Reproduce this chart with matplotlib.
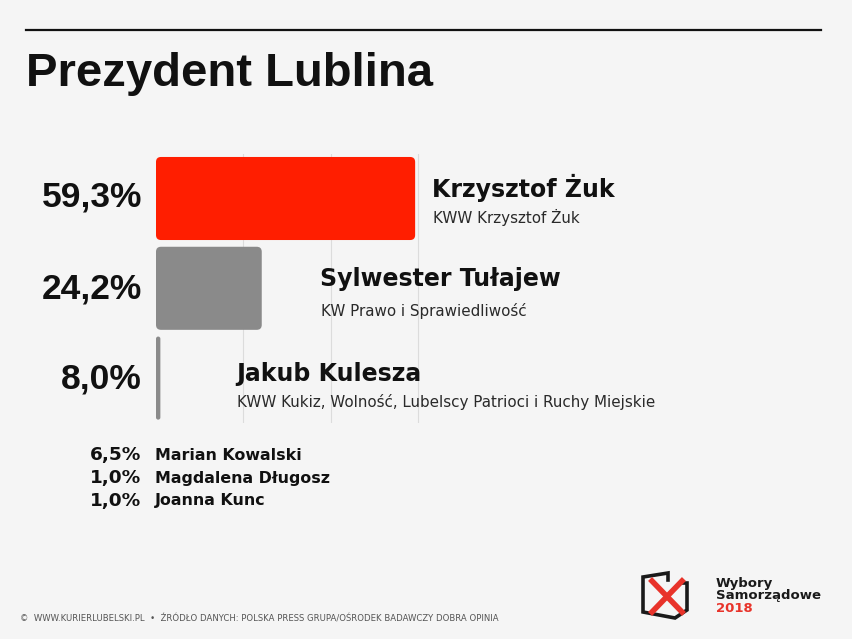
import matplotlib
matplotlib.use("Agg")
import matplotlib.pyplot as plt
from matplotlib.patches import FancyBboxPatch
from matplotlib.lines import Line2D

# DATA ================================================================
title = "Prezydent Lublina"
pct_labels = ["59,3%", "24,2%", "8,0%"]
bar_values = [59.3, 24.2, 1.0]        # bar lengths as drawn in the picture
names = ["Krzysztof Żuk", "Sylwester Tułajew", "Jakub Kulesza"]
committees = ["KWW Krzysztof Żuk", "KW Prawo i Sprawiedliwość",
              "KWW Kukiz, Wolność, Lubelscy Patrioci i Ruchy Miejskie"]
bar_colors = ["#ff1e00", "#8a8a8a", "#8a8a8a"]
other_pct = ["6,5%", "1,0%", "1,0%"]
other_names = ["Marian Kowalski", "Magdalena Długosz", "Joanna Kunc"]
footer = ("©  WWW.KURIERLUBELSKI.PL  •  ŹRÓDŁO DANYCH: POLSKA PRESS GRUPA/"
          "OŚRODEK BADAWCZY DOBRA OPINIA")

# FIGURE ==============================================================
W, H = 852, 639
BG = "#f5f5f5"
fig = plt.figure(figsize=(W / 100, H / 100), dpi=100, facecolor=BG)


def fx(x):
    return x / W


def fy(y):
    return 1 - y / H


# bar axes, x in percent
px_per_pct = 4.37
ax_left, ax_top, ax_bot = 156, 153.6, 423.0
ax_w = W - ax_left
ax = fig.add_axes([fx(ax_left), fy(ax_bot), fx(ax_w), (ax_bot - ax_top) / H])
ax.set_facecolor("none")
ax.set_xlim(0, ax_w / px_per_pct)
ax.set_ylim(2.5, -0.5)
ax.axis("off")

for gx in [20, 40, 60]:
    ax.axvline(gx, color="#dcdcdc", lw=0.8, zorder=0)

bar_h = 0.925
px_per_unit = (ax_bot - ax_top) / 3
aspect = (1 / px_per_unit) / (1 / px_per_pct)
for i, v in enumerate(bar_values):
    r = min(5 / px_per_pct, v / 2)
    p = FancyBboxPatch((0, i - bar_h / 2), v, bar_h,
                       boxstyle="round,pad=0,rounding_size=%f" % r,
                       mutation_aspect=aspect, fc=bar_colors[i], ec="none",
                       zorder=2)
    ax.add_patch(p)

# TEXTS ===============================================================
fig.add_artist(Line2D([fx(26), fx(821)], [fy(30), fy(30)], color="#111111", lw=1.6))
fig.text(fx(26), fy(86), title, fontsize=34, fontweight="bold",
         family="Liberation Sans", color="#111111",
         va="baseline", ha="left")

pct_base = [207, 298, 388]
name_y = [188, 279, 374]
sub_y = [217, 311, 402]
name_x = [432, 320, 236]
for i in range(3):
    fig.text(fx(142), fy(pct_base[i]), pct_labels[i], fontsize=25.5,
             fontweight="bold", family="Liberation Sans", ha="right",
             va="baseline", color="#111111")
    fig.text(fx(name_x[i]), fy(name_y[i]), names[i], fontsize=17,
             fontweight="bold", ha="left", va="center", color="#111111")
    fig.text(fx(name_x[i] + 1), fy(sub_y[i]), committees[i], fontsize=10.9,
             ha="left", va="center", color="#2a2a2a")

for i in range(3):
    y = 455 + 23 * i
    fig.text(fx(141), fy(y), other_pct[i], fontsize=13.3, fontweight="bold",
             ha="right", va="center", color="#111111")
    fig.text(fx(155), fy(y), other_names[i], fontsize=11.4, fontweight="bold",
             ha="left", va="center", color="#111111")

fig.text(fx(20), fy(619), footer, fontsize=6.1, ha="left", va="center",
         color="#555555")

# LOGO ================================================================
box = [(668, 580), (668, 573), (643, 577), (643, 612), (675, 618),
       (687, 610), (687, 583), (680, 583)]
fig.add_artist(Line2D([fx(p[0]) for p in box], [fy(p[1]) for p in box],
                      color="#1a1a1a", lw=2.6, solid_joinstyle="miter"))
fig.add_artist(Line2D([fx(652), fx(682)], [fy(581), fy(612)], color="#e8332a", lw=4))
fig.add_artist(Line2D([fx(682), fx(652)], [fy(581), fy(612)], color="#e8332a", lw=4))
fig.text(fx(716), fy(583), "Wybory", fontsize=9.5, fontweight="bold",
         ha="left", va="center", color="#1a1a1a")
fig.text(fx(716), fy(596), "Samorządowe", fontsize=9.5, fontweight="bold",
         ha="left", va="center", color="#1a1a1a")
fig.text(fx(716), fy(609), "2018", fontsize=9.5, fontweight="bold",
         ha="left", va="center", color="#e8332a")

fig.savefig("out.png", dpi=100, facecolor=BG)
